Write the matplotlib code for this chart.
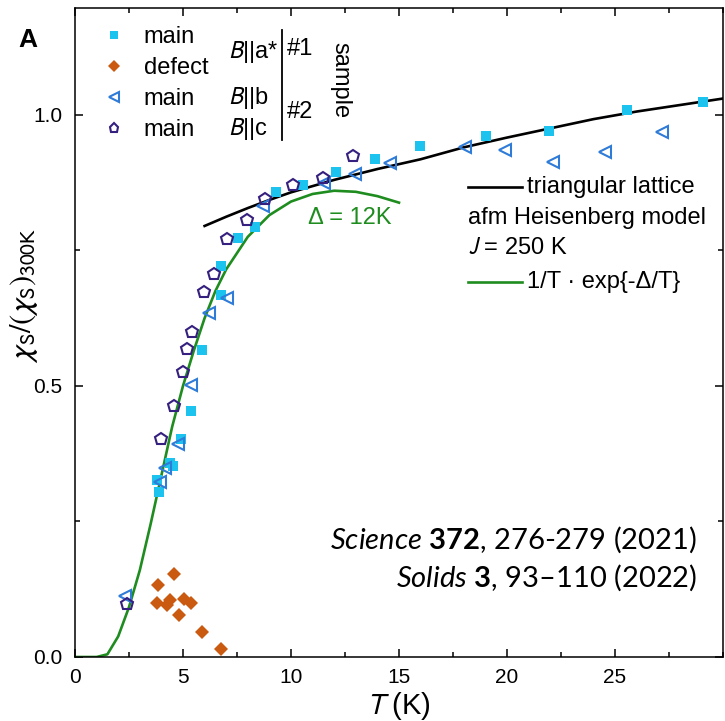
import matplotlib
matplotlib.use("Agg")
import matplotlib.pyplot as plt
from matplotlib.ticker import MultipleLocator, FormatStrFormatter

plt.rcParams['font.family'] = ['Liberation Sans', 'DejaVu Sans']
plt.rcParams['mathtext.fontset'] = 'custom'
plt.rcParams['mathtext.rm'] = 'Lato'
plt.rcParams['mathtext.it'] = 'Lato:italic'
plt.rcParams['mathtext.bf'] = 'Lato:bold'

# sample #1, B||a*  (main crystal)
T_a = [3.78, 3.89, 4.40, 4.55, 4.89, 5.37, 5.89, 6.75, 6.75, 7.53, 8.33, 9.29,
       10.57, 12.07, 13.89, 15.97, 19.03, 21.94, 25.56, 29.07]
chi_a = [0.327, 0.305, 0.358, 0.353, 0.402, 0.453, 0.566, 0.668, 0.722, 0.772,
         0.794, 0.858, 0.871, 0.894, 0.919, 0.943, 0.961, 0.970, 1.009, 1.024]

# sample #1, defect
T_def = [3.83, 3.78, 4.25, 4.40, 4.60, 4.81, 5.05, 5.37, 5.87, 6.76]
chi_def = [0.132, 0.100, 0.096, 0.105, 0.154, 0.077, 0.107, 0.099, 0.046, 0.014]

# sample #2, B||b
T_b = [2.31, 3.94, 4.17, 4.78, 5.37, 6.20, 7.02, 8.72, 11.55, 12.96, 14.58,
       18.06, 19.91, 22.11, 24.54, 27.16]
chi_b = [0.113, 0.323, 0.349, 0.393, 0.501, 0.635, 0.662, 0.832, 0.874, 0.891,
         0.911, 0.940, 0.935, 0.913, 0.932, 0.969]

# sample #2, B||c
T_c = [2.39, 3.98, 4.60, 5.01, 5.17, 5.40, 5.97, 6.44, 7.05, 7.98, 8.80, 10.08,
       11.50, 12.88]
chi_c = [0.098, 0.402, 0.463, 0.526, 0.568, 0.599, 0.673, 0.707, 0.771, 0.806,
         0.845, 0.871, 0.884, 0.924]

# triangular lattice afm Heisenberg model
T_tri = [6, 7, 8, 9, 10, 12, 14, 16, 18, 20, 22, 24, 26, 28, 30]
chi_tri = [0.795, 0.812, 0.828, 0.843, 0.857, 0.880, 0.900, 0.918, 0.940,
           0.958, 0.975, 0.992, 1.006, 1.018, 1.030]

# gap fit, Delta = 12 K
T_gap = [0, 1.0, 1.5, 2.0, 2.5, 3.0, 3.5, 4.0, 4.5, 5.0, 5.5, 6.0, 6.5, 7.0,
         8.0, 9.0, 10.0, 11.0, 12.0, 13.0, 14.0, 15.0]
chi_gap = [0, 0.0, 0.005, 0.038, 0.092, 0.160, 0.245, 0.335, 0.425, 0.500,
           0.565, 0.625, 0.675, 0.715, 0.775, 0.815, 0.840, 0.854, 0.860,
           0.858, 0.850, 0.838]

c_a = '#1cc3ee'
c_def = '#c95a10'
c_b = '#2f7bd8'
c_c = '#35207f'
c_gap = '#1e8c1e'

fig = plt.figure(figsize=(7.25, 7.21), dpi=100)
ax = fig.add_axes([75 / 725, 1 - 657 / 721, 648 / 725, 649 / 721])

ax.plot(T_tri, chi_tri, color='black', lw=1.9, zorder=2)
ax.plot(T_gap, chi_gap, color=c_gap, lw=1.9, zorder=2)

h_a, = ax.plot(T_a, chi_a, 's', color=c_a, ms=7, mew=0, zorder=3)
h_def, = ax.plot(T_def, chi_def, 'D', color=c_def, ms=7.5, mew=0, zorder=3)
h_b, = ax.plot(T_b, chi_b, '<', mfc='none', mec=c_b, ms=9, mew=1.5, zorder=3)
h_c, = ax.plot(T_c, chi_c, 'p', mfc='none', mec=c_c, ms=9, mew=1.5, zorder=3)

ax.set_xlim(0, 30)
ax.set_ylim(0, 1.197)
ax.set_xticks([0, 5, 10, 15, 20, 25])
ax.xaxis.set_minor_locator(MultipleLocator(2.5))
ax.yaxis.set_major_locator(MultipleLocator(0.5))
ax.yaxis.set_minor_locator(MultipleLocator(0.25))
ax.yaxis.set_major_formatter(FormatStrFormatter('%.1f'))
ax.tick_params(which='both', direction='in', top=True, right=True,
               labelsize=15, width=1.1)
ax.tick_params(axis='x', pad=8)
ax.tick_params(axis='y', pad=9)
ax.tick_params(which='major', length=6)
ax.tick_params(which='minor', length=3.5)
for s in ax.spines.values():
    s.set_linewidth(1.1)

ax.set_xlabel(r'$T$ (K)', fontsize=21, math_fontfamily='stixsans')
ax.xaxis.set_label_coords((398 - 75) / 648, (657 - 690) / 649)
ax.set_ylabel(r'$\chi_\mathrm{S}/(\chi_\mathrm{S})_{300\mathrm{K}}$', fontsize=22,
              math_fontfamily='stixsans')
ax.yaxis.set_label_coords((40 - 75) / 648, (657 - 295) / 649)

fig.text(28 / 725, 1 - 40 / 721, 'A', fontsize=19, fontweight='bold',
         ha='center', va='center')

leg = ax.legend([h_a, h_def, h_b, h_c], ['main', 'defect', 'main', 'main'],
                loc='upper left', bbox_to_anchor=(0.017, 0.997), frameon=False,
                fontsize=17, handlelength=1.0, handletextpad=0.75,
                labelspacing=0.38, markerscale=0.75, borderpad=0.2)

kw = dict(transform=ax.transAxes, fontsize=17, va='center', math_fontfamily='stixsans')
ax.text(0.236, 0.932, r'$B$||a*', **kw)
ax.text(0.236, 0.861, r'$B$||b', **kw)
ax.text(0.236, 0.813, r'$B$||c', **kw)
ax.text(0.327, 0.937, '#1', **kw)
ax.text(0.327, 0.840, '#2', **kw)
ax.plot([0.3194, 0.3194], [0.797, 0.966], color='black', lw=1.3,
        transform=ax.transAxes, clip_on=False)
ax.text(0.410, 0.889, 'sample', transform=ax.transAxes, fontsize=17,
        rotation=270, ha='center', va='center')

ax.text(12.7, 0.81, 'Δ = 12K', color=c_gap, fontsize=17, ha='center', va='center')

ax.plot([0.606, 0.690], [0.724, 0.724], color='black', lw=1.9, transform=ax.transAxes)
ax.text(0.698, 0.724, 'triangular lattice', **kw)
ax.text(0.607, 0.677, 'afm Heisenberg model', **kw)
ax.text(0.607, 0.630, r'$J$ = 250 K', **kw)
ax.plot([0.606, 0.690], [0.578, 0.578], color=c_gap, lw=1.9, transform=ax.transAxes)
ax.text(0.698, 0.578, '1/T · exp{-Δ/T}', **kw)

ax.text(0.960, 0.180, r'$\mathit{Science}$ $\mathbf{372}$, 276-279 (2021)',
        transform=ax.transAxes, fontsize=21, family='Lato', ha='right', va='center')
ax.text(0.960, 0.122, r'$\mathit{Solids}$ $\mathbf{3}$, 93–110 (2022)',
        transform=ax.transAxes, fontsize=21, family='Lato', ha='right', va='center')

fig.savefig('out.png', dpi=100)
